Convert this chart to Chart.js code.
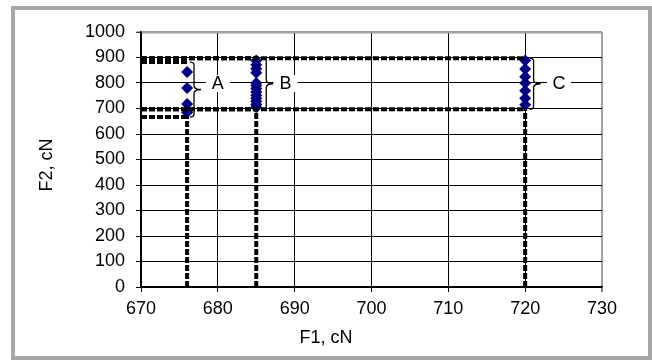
<!DOCTYPE html>
<html>
<head>
<meta charset="utf-8">
<script src="https://cdn.jsdelivr.net/npm/chart.js@4.4.0/dist/chart.umd.min.js"></script>
<style>
  html, body { margin: 0; padding: 0; background: #fff; }
  #frame {
    position: absolute; left: 11px; top: 6px; right: 0; bottom: 0;
    border: 4px solid #a7a7a7; background: #fff;
  }
  #wrap { position: absolute; left: 0; top: 0; width: 652px; height: 360px; }
</style>
</head>
<body>
<div id="frame"></div>
<div id="wrap"><canvas id="chart" width="652" height="360"></canvas></div>
<script>
// ---- data ----
const groupNames = ['A', 'B', 'C'];
const groupX = [676, 685, 720];
const valuesA = [843, 780, 718, 684];
const valuesB = [888, 872, 856, 840, 800, 790, 778, 765, 752, 740, 728, 716, 705];
const valuesC = [888, 855, 825, 800, 770, 740, 715];
const groupTop = [882, 897, 897];
const groupBottom = [667, 697, 697];

// braces + labels
const braceX = [676.9, 686.3, 721.1];
const labelX = [680, 688.8, 724.4];
const labelY = 800;

// axes
const xMin = 670, xMax = 730, xStep = 10;
const yMin = 0, yMax = 1000, yStep = 100;

const FONT = "'Liberation Sans', Arial, sans-serif";

const groupValues = [valuesA, valuesB, valuesC];

const datasets = [];
groupValues.forEach((vals, i) => {
  datasets.push({
    label: groupNames[i],
    data: vals.map(v => ({ x: groupX[i], y: v })),
    showLine: false,
    pointStyle: 'rectRot',
    pointRadius: 6,
    pointBackgroundColor: '#000080',
    pointBorderColor: '#000080',
    pointBorderWidth: 0,
    order: 2
  });
});

// dashed guide lines: top / bottom from the axis, and a drop line to zero
const guide = {
  showLine: true,
  pointRadius: 0,
  borderColor: '#000',
  borderWidth: 4,
  borderDash: [6, 2],
  fill: false,
  order: 1
};
groupX.forEach((gx, i) => {
  datasets.push(Object.assign({}, guide, { data: [{ x: xMin, y: groupTop[i] }, { x: gx, y: groupTop[i] }] }));
  datasets.push(Object.assign({}, guide, { data: [{ x: xMin, y: groupBottom[i] }, { x: gx, y: groupBottom[i] }] }));
  datasets.push(Object.assign({}, guide, { data: [{ x: gx, y: yMin }, { x: gx, y: groupBottom[i] }] }));
});

// braces "}" with a label
const bracePlugin = {
  id: 'braces',
  afterDatasetsDraw(chart) {
    const { ctx, scales: { x, y } } = chart;
    ctx.save();
    groupNames.forEach((name, i) => {
      const bx = x.getPixelForValue(braceX[i]);
      const t = y.getPixelForValue(groupTop[i]);
      const b = y.getPixelForValue(groupBottom[i]);
      const m = (t + b) / 2;
      ctx.strokeStyle = '#000';
      ctx.lineWidth = 1.3;
      ctx.beginPath();
      ctx.moveTo(bx - 4, t);
      ctx.quadraticCurveTo(bx, t, bx, t + 3);
      ctx.lineTo(bx, m - 4);
      ctx.quadraticCurveTo(bx, m, bx + 7, m);
      ctx.quadraticCurveTo(bx, m, bx, m + 4);
      ctx.lineTo(bx, b - 3);
      ctx.quadraticCurveTo(bx, b, bx - 4, b);
      ctx.stroke();

      const lx = x.getPixelForValue(labelX[i]);
      const ly = y.getPixelForValue(labelY);
      ctx.fillStyle = '#fff';
      ctx.fillRect(lx - 12, ly - 8, 24, 17);
      ctx.fillStyle = '#000';
      ctx.font = '18px ' + FONT;
      ctx.textAlign = 'center';
      ctx.textBaseline = 'middle';
      ctx.fillText(name, lx, ly + 1);
    });
    ctx.restore();
  }
};

// axis titles (Excel places them a bit off-centre)
const titlePlugin = {
  id: 'axisTitles',
  afterDraw(chart) {
    const { ctx, chartArea } = chart;
    ctx.save();
    ctx.fillStyle = '#000';
    ctx.font = '18px ' + FONT;
    ctx.textAlign = 'center';
    ctx.textBaseline = 'middle';
    ctx.fillText('F1, cN', chartArea.left + 185, 338);
    ctx.translate(47, chartArea.top + 133);
    ctx.rotate(-Math.PI / 2);
    ctx.fillText('F2, cN', 0, 0);
    ctx.restore();
  }
};

new Chart(document.getElementById('chart'), {
  type: 'scatter',
  data: { datasets },
  options: {
    responsive: false,
    animation: false,
    layout: { padding: { left: 0, top: 32, right: 50, bottom: 0 } },
    plugins: {
      legend: { display: false },
      tooltip: { enabled: false }
    },
    scales: {
      x: {
        type: 'linear',
        min: xMin, max: xMax,
        ticks: { stepSize: xStep, color: '#000', font: { family: FONT, size: 18 }, padding: 6, maxRotation: 0,
                 callback: v => String(v) },
        grid: {
          color: c => c.tick && c.tick.value === xMax ? '#a0a0a0' : '#000',
          lineWidth: c => c.tick && c.tick.value === xMax ? 2 : 1,
          tickLength: 5, tickColor: '#000', tickWidth: 1
        },
        border: { color: '#000', width: 1.5 },
        afterFit: s => { s.height = 73; }
      },
      y: {
        type: 'linear',
        min: yMin, max: yMax,
        ticks: { stepSize: yStep, color: '#000', font: { family: FONT, size: 18 }, padding: 11,
                 callback: v => String(v) },
        grid: {
          color: c => c.tick && c.tick.value === yMax ? '#a0a0a0' : '#000',
          lineWidth: c => c.tick && c.tick.value === yMax ? 2.5 : 1,
          tickLength: 5, tickColor: '#000', tickWidth: 1
        },
        border: { color: '#000', width: 1.5 },
        afterFit: s => { s.width = 141; }
      }
    }
  },
  plugins: [bracePlugin, titlePlugin]
});
</script>
</body>
</html>
